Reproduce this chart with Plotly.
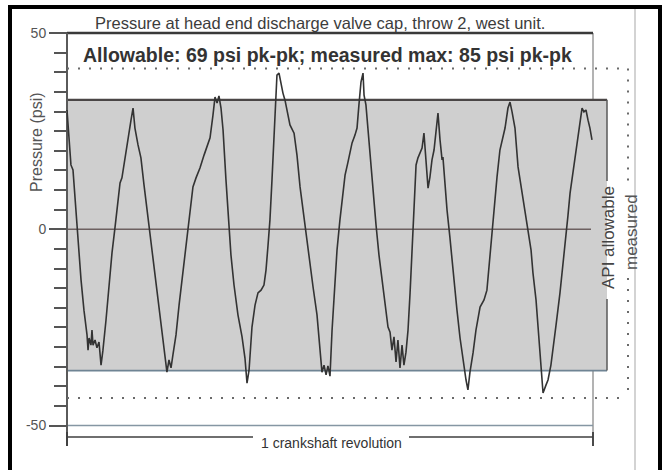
import plotly.graph_objects as go

# ---------------- data ----------------
crank_angle_deg = [
    0, 1.4, 2.7, 4.1, 5.5, 7.5, 9.6, 11.6, 13.7, 14.4,
    15.1, 16.4, 17.1, 17.8, 19.2, 20.5, 21.9, 23.3, 24.6, 26.7,
    28.7, 30.8, 32.9, 34.9, 36.3, 37.6, 39.7, 41.7, 43.8, 45.2,
    46.5, 48.6, 50.0, 50.6, 52.7, 54.8, 55.4, 57.5, 59.5, 61.6,
    63.6, 65.7, 67.1, 68.4, 69.8, 71.2, 72.5, 74.6, 76.7, 78.7,
    80.8, 82.8, 84.9, 86.2, 88.3, 91.0, 93.8, 95.8, 97.9, 99.9,
    101.3, 102.7, 104.0, 105.4, 106.8, 108.8, 110.2, 112.2, 114.3, 117.0,
    119.8, 121.8, 123.2, 124.6, 126.6, 128.7, 130.7, 132.8, 134.8, 136.2,
    137.6, 138.9, 140.3, 141.7, 143.0, 143.7, 145.1, 146.5, 147.8, 149.2,
    150.6, 152.6, 155.4, 157.4, 159.5, 161.5, 163.6, 165.6, 168.4, 171.1,
    173.2, 174.5, 175.9, 177.3, 178.6, 180.0, 181.4, 183.4, 184.8, 186.8,
    188.2, 190.3, 192.3, 195.1, 197.1, 198.5, 199.8, 201.2, 202.6, 203.3,
    204.6, 206.0, 207.4, 209.4, 211.5, 213.5, 215.6, 217.6, 219.7, 221.1,
    222.4, 223.8, 225.2, 226.5, 227.9, 229.3, 230.6, 232.0, 233.4, 234.8,
    236.1, 237.5, 238.9, 240.2, 241.6, 243.0, 244.3, 245.7, 247.1, 248.4,
    249.8, 251.2, 252.5, 253.9, 255.3, 256.7, 257.3, 258.7, 260.1, 262.1,
    263.5, 265.5, 266.9, 269.0, 271.0, 273.1, 274.4, 275.8, 277.9, 279.9,
    282.7, 285.4, 287.4, 289.5, 290.9, 292.9, 294.3, 296.3, 297.7, 299.8,
    301.8, 303.2, 304.6, 306.6, 308.7, 310.7, 312.1, 314.1, 315.5, 317.6,
    318.9, 321.0, 322.4, 324.4, 325.8, 327.8, 329.2, 331.2, 332.6, 334.7,
    337.4, 339.5, 340.8, 342.9, 344.3, 347.0, 349.0, 351.1, 352.5, 353.8,
    355.2, 356.6, 357.9, 359.3,
]
pressure_psi = [
    30.4, 22.8, 16.4, 15.1, 7.5, -2.7, -12.9, -20.6, -26.9, -30.8,
    -27.7, -29.5, -25.7, -29.5, -28.2, -30.2, -28.7, -34.6, -30.8, -23.1,
    -14.2, -6.0, 0.6, 7.5, 11.8, 13.1, 17.7, 22.8, 27.8, 30.9,
    25.8, 21.5, 18.9, 18.2, 11.3, 4.9, 3.6, -2.7, -9.1, -15.5,
    -21.1, -28.2, -33.3, -36.4, -33.3, -35.3, -32.0, -26.9, -19.3, -12.9,
    -6.5, -0.9, 6.2, 10.8, 13.1, 15.6, 18.9, 21.0, 23.3, 29.1,
    33.7, 32.2, 34.0, 30.9, 25.3, 12.6, 3.6, -6.5, -14.2, -21.8,
    -27.4, -32.8, -39.2, -35.9, -24.9, -19.3, -16.2, -15.5, -14.2, -10.4,
    -4.0, 2.4, 12.6, 22.8, 34.2, 39.3, 39.8, 36.8, 34.7, 32.9,
    29.9, 26.6, 24.5, 18.9, 10.8, 4.9, -1.5, -7.3, -14.7, -21.8,
    -32.0, -36.4, -34.6, -37.1, -34.8, -37.4, -25.7, -12.9, -5.3, 2.4,
    7.5, 13.8, 17.1, 22.0, 24.0, 25.8, 31.7, 37.5, 39.8, 34.2,
    31.7, 25.3, 18.9, 9.2, 1.1, -6.5, -12.9, -19.3, -24.9, -26.2,
    -30.8, -27.4, -33.8, -28.2, -35.3, -29.5, -34.6, -31.3, -25.7, -16.2,
    -6.5, 3.6, 16.4, 18.2, 19.4, 20.7, 24.5, 17.7, 10.5, 13.3,
    17.7, 20.2, 25.3, 29.6, 22.8, 17.7, 18.4, 11.3, 4.9, -2.2,
    -7.8, -14.2, -20.6, -27.7, -33.3, -38.4, -40.9, -36.4, -31.5, -25.7,
    -19.8, -18.0, -15.5, -6.5, 0.6, 7.5, 13.3, 20.2, 22.8, 25.8,
    30.9, 32.4, 29.9, 25.8, 15.9, 11.3, 7.5, 3.6, 0.6, -5.3,
    -11.1, -18.0, -24.9, -34.6, -41.7, -39.7, -38.4, -34.6, -30.0, -24.4,
    -16.2, -9.1, -3.5, 3.6, 9.2, 16.4, 22.0, 27.8, 30.9, 29.9,
    30.4, 27.8, 25.8, 22.8,
]

api_allowable_psi = [-36, 33]      # 69 psi pk-pk band
measured_psi = [-43, 41]           # measured max band
revolution_deg = [0, 360]
frame_top_psi = 50
frame_bottom_psi = -50

y_tick_vals = [-50, 0, 50]
y_tick_text = ["-50", "0", "50"]
y_minor_vals = [-45, -40, -35, -30, -25, -20, -15, -10, -5,
                5, 10, 15, 20, 25, 30, 35, 40, 45]

title_text = "Pressure at head end discharge valve cap, throw 2, west unit."
subtitle_text = "Allowable: 69 psi pk-pk; measured max: 85 psi pk-pk"
y_title_text = "Pressure (psi)"
revolution_text = "1 crankshaft revolution"
api_text = "API allowable"
measured_text = "measured"

# ---------------- layout geometry ----------------
W, H = 666, 470
X0_PX, X360_PX = 67, 593
KX = (X360_PX - X0_PX) / 360.0
Y0_PX, KY = 229.3, 3.925
x_range = [-X0_PX / KX, (W - X0_PX) / KX]
y_range = [(Y0_PX - H) / KY, Y0_PX / KY]


def xd(px):
    return (px - X0_PX) / KX


def yd(py):
    return (Y0_PX - py) / KY


FONT = "Liberation Sans, Arial, sans-serif"
api_right = xd(607)
meas_right = xd(628)
brk_y = yd(437)
brk_lo, brk_hi = yd(432), yd(446)
axis_bottom = brk_hi

fig = go.Figure()
fig.add_trace(go.Scatter(
    x=crank_angle_deg, y=pressure_psi, mode="lines",
    line=dict(color="#333333", width=1.6), hoverinfo="skip", showlegend=False,
))

shapes = []


def seg(x0, y0, x1, y1, color, width, dash=None, layer="below"):
    ln = dict(color=color, width=width)
    if dash:
        ln["dash"] = dash
    shapes.append(dict(type="line", xref="x", yref="y", x0=x0, y0=y0, x1=x1, y1=y1,
                       line=ln, layer=layer))


lo, hi = revolution_deg
# right frame vertical (mostly hidden behind the band)
seg(hi, frame_top_psi, hi, axis_bottom, "#8a8a8a", 1.3)
# shaded API allowable band
shapes.append(dict(type="rect", xref="x", yref="y", x0=lo, x1=api_right,
                   y0=api_allowable_psi[0], y1=api_allowable_psi[1],
                   fillcolor="#cfcfcf", line=dict(width=0), layer="below"))
seg(lo, api_allowable_psi[1], api_right, api_allowable_psi[1], "#4a4646", 2.2)
seg(lo, api_allowable_psi[0], api_right, api_allowable_psi[0], "#6f8494", 1.6)
seg(api_right, api_allowable_psi[1], api_right, yd(181), "#5a5a5a", 1.5)
seg(api_right, yd(299), api_right, api_allowable_psi[0], "#5a5a5a", 1.5)
# zero line
seg(lo, 0, xd(591), 0, "#6d6060", 1.6)
# top frame line and -50 line
seg(lo, frame_top_psi, hi, frame_top_psi, "#3a3a3a", 2.6)
seg(lo, frame_bottom_psi, hi, frame_bottom_psi, "#8596a3", 1.4)
# left axis line
seg(lo, frame_top_psi, lo, axis_bottom, "#5a5a5a", 2)
# measured dotted band
DOT = "2px,9px"
seg(lo, measured_psi[1], meas_right, measured_psi[1], "#6a6a6a", 2, DOT)
seg(lo, measured_psi[0], meas_right, measured_psi[0], "#6a6a6a", 2, DOT)
seg(meas_right, measured_psi[1], meas_right, yd(188), "#6a6a6a", 2, DOT)
seg(meas_right, yd(278), meas_right, measured_psi[0], "#6a6a6a", 2, DOT)
# crankshaft revolution bracket
seg(lo, brk_y, xd(253), brk_y, "#3f3f3f", 1.6)
seg(xd(409), brk_y, hi, brk_y, "#3f3f3f", 1.6)
seg(lo, brk_lo, lo, brk_hi, "#3f3f3f", 1.8)
seg(hi, brk_lo, hi, brk_hi, "#3f3f3f", 1.8)

# scanned page edge and black outer frame
shapes.append(dict(type="line", xref="paper", yref="paper", x0=635 / W, x1=635 / W,
                   y0=-0.05, y1=1 - 9 / H, line=dict(color="#c4c4c4", width=1.5)))
shapes.append(dict(type="rect", xref="paper", yref="paper", x0=10 / W, x1=660 / W,
                   y0=-0.05, y1=1 - 7 / H, line=dict(color="#000000", width=4),
                   fillcolor="rgba(0,0,0,0)"))


def ann(text, px, py, size, color, angle=0):
    return dict(text=text, xref="paper", yref="paper", x=px / W, y=1 - py / H,
                xanchor="center", yanchor="middle", showarrow=False, textangle=angle,
                font=dict(family=FONT, size=size, color=color))


annotations = [
    ann(title_text, 320, 23, 16.5, "#3c3c3c"),
    ann("<b>" + subtitle_text + "</b>", 327, 55, 19.5, "#333333"),
    ann(y_title_text, 36, 142, 16, "#555555", -90),
    ann(revolution_text, 331, 443, 14, "#333333"),
    ann(api_text, 609, 238, 17, "#444444", -90),
    ann(measured_text, 631, 232, 17, "#555555", -90),
]

fig.update_layout(
    width=W, height=H,
    margin=dict(l=0, r=0, t=0, b=0),
    paper_bgcolor="white", plot_bgcolor="white",
    showlegend=False,
    font=dict(family=FONT),
    xaxis=dict(range=x_range, visible=False, fixedrange=True),
    yaxis=dict(
        range=y_range, anchor="free", position=X0_PX / W, side="left",
        showgrid=False, zeroline=False, showline=False, automargin=False,
        ticks="outside", ticklen=18, tickwidth=2, tickcolor="#555555",
        tickmode="array", tickvals=y_tick_vals, ticktext=y_tick_text,
        tickfont=dict(family=FONT, size=14, color="#555555"),
        minor=dict(tickmode="array", tickvals=y_minor_vals, ticks="outside",
                   ticklen=13, tickwidth=2, tickcolor="#555555"),
    ),
    shapes=shapes,
    annotations=annotations,
)

fig.write_html(
    "out.html",
    config={"displayModeBar": False},
    post_script="document.body.style.margin='0';document.body.style.overflow='hidden';",
)
